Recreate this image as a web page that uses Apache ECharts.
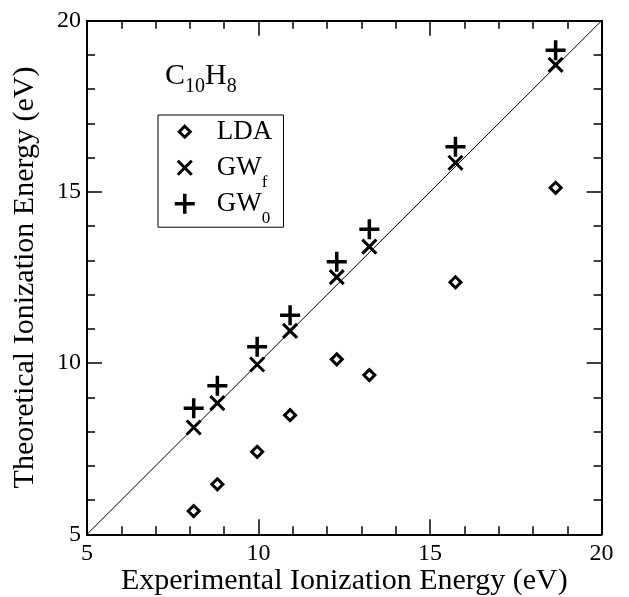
<!DOCTYPE html>
<html>
<head>
<meta charset="utf-8">
<script src="https://cdn.jsdelivr.net/npm/echarts@6/dist/echarts.min.js"></script>
<style>
html,body{margin:0;padding:0;background:#fff;}
#chart{width:629px;height:597px;}
</style>
</head>
<body>
<div id="chart"></div>
<script>
// Data
var experimental = [8.11, 8.80, 9.96, 10.92, 12.28, 13.23, 15.74, 18.66];
var ldaValues    = [5.68, 6.46, 7.41, 8.48, 10.11, 9.65, 12.36, 15.12];
var gwfValues    = [8.12, 8.83, 9.96, 10.94, 12.51, 13.40, 15.85, 18.71];
var gw0Values    = [8.68, 9.34, 10.48, 11.40, 12.96, 13.91, 16.32, 19.14];
var axisMin = 5, axisMax = 20, axisStep = 5;
var seriesNames = ['LDA', 'GWf', 'GW0'];
var xTitle = 'Experimental Ionization Energy (eV)';
var yTitle = 'Theoretical Ionization Energy (eV)';

function pairs(ys) { return experimental.map(function (x, i) { return [x, ys[i]]; }); }

var FONT = 'Liberation Serif';
var SYM_X = 'path://M0,0 M20,20 M3,3 L17,17 M17,3 L3,17';
var SYM_PLUS = 'path://M0,0 M20,20 M0,10 L20,10 M10,0 L10,20';
var SYM_DIAMOND = 'path://M0,0 M20,20 M10,4.5 L15.5,10 L10,15.5 L4.5,10 Z';

function makeAxis(pos, showLabel, isX) {
  return {
    type: 'value', min: axisMin, max: axisMax, interval: axisStep, position: pos,
    name: showLabel ? (isX ? xTitle : yTitle) : '',
    nameLocation: 'middle',
    nameGap: isX ? 32 : 47,
    nameMoveOverlap: false,
    nameTextStyle: { fontFamily: FONT, fontSize: 30, color: '#000' },
    axisLine: { show: true, onZero: false, lineStyle: { color: '#000', width: 2 } },
    axisTick: { show: true, inside: true, length: 15, lineStyle: { color: '#000', width: 1.5 } },
    minorTick: { show: true, splitNumber: 5, length: 8, lineStyle: { color: '#000', width: 1.5 } },
    splitLine: { show: false },
    minorSplitLine: { show: false },
    axisLabel: { show: showLabel, margin: isX ? 7 : 6, fontFamily: FONT, fontSize: 24, color: '#000',
                 hideOverlap: false, showMinLabel: true, showMaxLabel: true }
  };
}

var chart = echarts.init(document.getElementById('chart'), null, { renderer: 'canvas' });
chart.setOption({
  animation: false,
  backgroundColor: '#fff',
  title: {
    text: '{a|C}{b|10}{a|H}{b|8}',
    left: 165, top: 61, padding: 0,
    textStyle: {
      fontWeight: 'normal',
      rich: {
        a: { fontFamily: FONT, fontSize: 30, color: '#000', verticalAlign: 'bottom', fontWeight: 'normal', padding: [0, 0, 5.5, 0] },
        b: { fontFamily: FONT, fontSize: 20, color: '#000', verticalAlign: 'bottom', fontWeight: 'normal' }
      }
    }
  },
  legend: {
    data: seriesNames,
    orient: 'vertical',
    left: 158, top: 115,
    padding: [3.2, 7, 0, 15],
    itemWidth: 20, itemHeight: 20, itemGap: -1,
    borderColor: '#000', borderWidth: 1,
    selectedMode: false,
    itemStyle: { borderWidth: 'inherit' },
    formatter: function (name) {
      if (name === 'LDA') return '{a|LDA}{b| }';
      if (name === 'GWf') return '{a|GW}{b|f}';
      return '{a|GW}{b|0}';
    },
    textStyle: {
      fontFamily: FONT, fontSize: 27, color: '#000',
      rich: {
        a: { fontFamily: FONT, fontSize: 27, color: '#000', verticalAlign: 'bottom', padding: [10, 0, 10, 17] },
        b: { fontFamily: FONT, fontSize: 17, color: '#000', verticalAlign: 'bottom' }
      }
    }
  },
  grid: { left: 87, top: 20.7, right: 27.4, bottom: 62.7, containLabel: false, outerBoundsMode: 'none' },
  xAxis: [makeAxis('bottom', true, true), makeAxis('top', false, true)],
  yAxis: [makeAxis('left', true, false), makeAxis('right', false, false)],
  series: [
    {
      name: 'diagonal', type: 'line', data: [[axisMin, axisMin], [axisMax, axisMax]],
      symbol: 'none', silent: true, z: 1,
      lineStyle: { color: '#000', width: 1 }
    },
    {
      name: 'LDA', type: 'scatter', data: pairs(ldaValues), symbol: SYM_DIAMOND, symbolSize: 20, z: 3,
      itemStyle: { color: '#fff', borderColor: '#000', borderWidth: 3, opacity: 1 },
      emphasis: { disabled: true }
    },
    {
      name: 'GWf', type: 'scatter', data: pairs(gwfValues), symbol: SYM_X, symbolSize: 20, z: 3,
      itemStyle: { color: 'transparent', borderColor: '#000', borderWidth: 3, opacity: 1 },
      emphasis: { disabled: true }
    },
    {
      name: 'GW0', type: 'scatter', data: pairs(gw0Values), symbol: SYM_PLUS, symbolSize: 20, z: 3,
      itemStyle: { color: 'transparent', borderColor: '#000', borderWidth: 3.5, opacity: 1 },
      emphasis: { disabled: true }
    }
  ]
});
</script>
</body>
</html>
